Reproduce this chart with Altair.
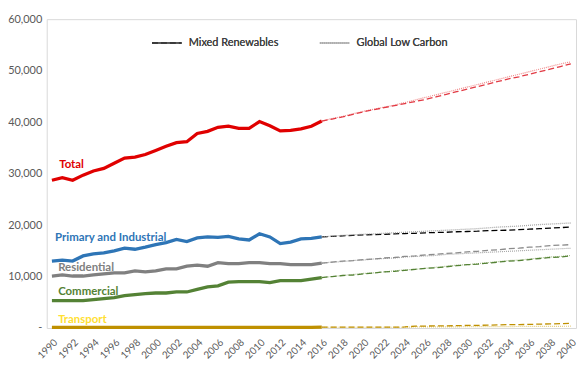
import altair as alt
import pandas as pd

hist_years = list(range(1990, 2017))
proj_years = list(range(2016, 2041))

series_names = ["Total", "Primary and Industrial", "Residential", "Commercial", "Transport"]

hist_total = [28700, 29200, 28700, 29700, 30500, 31000, 32000, 33000, 33200, 33700,
              34500, 35300, 36000, 36200, 37800, 38200, 39000, 39200, 38800, 38800,
              40100, 39300, 38300, 38400, 38700, 39200, 40200]
hist_primary = [13000, 13200, 13000, 14000, 14400, 14600, 15000, 15500, 15300, 15700,
                16200, 16600, 17200, 16800, 17500, 17700, 17600, 17800, 17300, 17100,
                18300, 17700, 16400, 16700, 17300, 17400, 17700]
hist_residential = [10100, 10300, 10100, 10100, 10300, 10500, 10700, 10700, 11100, 10900,
                    11100, 11500, 11500, 12000, 12200, 12000, 12700, 12500, 12500, 12700,
                    12700, 12500, 12500, 12300, 12300, 12300, 12600]
hist_commercial = [5300, 5300, 5300, 5300, 5500, 5700, 5900, 6300, 6500, 6700,
                   6800, 6800, 7000, 7000, 7500, 8000, 8200, 8900, 9000, 9000,
                   9000, 8800, 9200, 9200, 9200, 9500, 9800]
hist_transport = [100] * 26 + [150]

mixed_total = [40200, 40600, 41000, 41500, 42000, 42400, 42800, 43200, 43600, 44000,
               44400, 44900, 45400, 45900, 46400, 46900, 47400, 47900, 48400, 48800,
               49300, 49800, 50300, 50800, 51300]
low_total = [40200, 40700, 41100, 41600, 42100, 42500, 42900, 43300, 43800, 44300,
             44800, 45300, 45800, 46300, 46800, 47300, 47800, 48300, 48800, 49300,
             49800, 50300, 50800, 51300, 51700]
mixed_primary = [17700, 17800, 17900, 18000, 18100, 18150, 18200, 18300, 18350, 18400,
                 18500, 18550, 18600, 18700, 18750, 18800, 18900, 18950, 19000, 19100,
                 19200, 19300, 19400, 19500, 19600]
low_primary = [17700, 17850, 18000, 18100, 18200, 18300, 18400, 18500, 18600, 18700,
               18800, 18900, 19000, 19100, 19200, 19300, 19450, 19600, 19700, 19800,
               19950, 20100, 20200, 20300, 20400]
mixed_residential = [12600, 12800, 13000, 13100, 13300, 13400, 13600, 13700, 13900, 14000,
                     14200, 14300, 14500, 14600, 14800, 14900, 15100, 15200, 15400, 15500,
                     15700, 15800, 16000, 16100, 16200]
low_residential = [12600, 12800, 12900, 13100, 13200, 13400, 13500, 13600, 13800, 13900,
                   14000, 14100, 14300, 14400, 14500, 14600, 14700, 14800, 14900, 15000,
                   15100, 15200, 15300, 15400, 15500]
mixed_commercial = [9800, 10000, 10200, 10300, 10500, 10700, 10900, 11000, 11200, 11400,
                    11600, 11700, 11900, 12100, 12300, 12400, 12600, 12800, 13000, 13100,
                    13300, 13500, 13700, 13800, 14000]
low_commercial = [9800, 10000, 10200, 10400, 10600, 10700, 10900, 11100, 11300, 11400,
                  11600, 11800, 12000, 12200, 12300, 12500, 12700, 12900, 13100, 13200,
                  13400, 13600, 13800, 13900, 14100]
mixed_transport = [150, 150, 150, 150, 150, 150, 150, 150, 200, 350,
                   380, 400, 420, 450, 500, 520, 550, 600, 650, 660,
                   700, 750, 800, 850, 900]
low_transport = [150, 150, 150, 150, 150, 150, 150, 150, 150, 200,
                 200, 200, 220, 230, 250, 250, 260, 270, 280, 290,
                 300, 300, 320, 330, 350]

label_years = [1990.7, 1990.3, 1990.6, 1990.6, 1990.6]
label_values = [31600, 17400, 11600, 7000, 1500]

hist_colors = ["#E00000", "#2E75B6", "#808080", "#548235", "#BF9000"]
mixed_colors = ["#E23A44", "#000000", "#8C8C8C", "#548235", "#BF9000"]
low_colors = ["#F08A8A", "#A6A6A6", "#A6A6A6", "#A9C08F", "#E2CB7A"]
label_colors = ["#E00000", "#2E75B6", "#808080", "#548235", "#FFE033"]

scenarios = ["Mixed Renewables", "Global Low Carbon"]

hist_lists = [hist_total, hist_primary, hist_residential, hist_commercial, hist_transport]
mixed_lists = [mixed_total, mixed_primary, mixed_residential, mixed_commercial, mixed_transport]
low_lists = [low_total, low_primary, low_residential, low_commercial, low_transport]

rows = []
for s, vals in zip(series_names, hist_lists):
    for y, v in zip(hist_years, vals):
        rows.append({"series": s, "scenario": "History", "year": y, "value": v})
for s, vals in zip(series_names, mixed_lists):
    for y, v in zip(proj_years, vals):
        rows.append({"series": s, "scenario": scenarios[0], "year": y, "value": v})
for s, vals in zip(series_names, low_lists):
    for y, v in zip(proj_years, vals):
        rows.append({"series": s, "scenario": scenarios[1], "year": y, "value": v})
df = pd.DataFrame(rows)

labels_df = pd.DataFrame({"series": series_names, "year": label_years, "value": label_values})

FONT = "Lato"

x_enc = alt.X("year:Q",
              scale=alt.Scale(domain=[1989.5, 2040.5], nice=False, zero=False),
              axis=alt.Axis(values=list(range(1990, 2041, 2)), format="d", labelAngle=-45,
                            title=None, grid=False, ticks=False, domain=False,
                            labelOverlap=False, labelBound=False, labelFlush=False,
                            labelFontSize=10, labelColor="#595959", labelFont=FONT,
                            labelPadding=9))
y_enc = alt.Y("value:Q",
              scale=alt.Scale(domain=[0, 60000], nice=False),
              axis=alt.Axis(values=list(range(0, 60001, 10000)),
                            labelExpr="datum.value == 0 ? '-' : format(datum.value, ',')",
                            title=None, grid=False, ticks=False, domain=False,
                            labelOverlap=False, labelBound=False, labelFlush=False,
                            labelFontSize=11, labelColor="#595959", labelFont=FONT,
                            labelPadding=5))

layers = []
for i, s in enumerate(series_names):
    layers.append(
        alt.Chart(df).transform_filter(
            (alt.datum.series == s) & (alt.datum.scenario == "History")
        ).mark_line(color=hist_colors[i], strokeWidth=3.3).encode(x=x_enc, y=y_enc)
    )
for i, s in enumerate(series_names):
    if s == "Primary and Industrial":
        continue
    layers.append(
        alt.Chart(df).transform_filter(
            (alt.datum.series == s) & (alt.datum.scenario == scenarios[1])
        ).mark_line(color=low_colors[i], strokeWidth=1.2, strokeDash=[1, 1]).encode(x=x_enc, y=y_enc)
    )
    layers.append(
        alt.Chart(df).transform_filter(
            (alt.datum.series == s) & (alt.datum.scenario == scenarios[0])
        ).mark_line(color=mixed_colors[i], strokeWidth=1.3, strokeDash=[6, 3]).encode(x=x_enc, y=y_enc)
    )

legend_def = dict(title=None, orient="none", legendX=105, legendY=8,
                  direction="horizontal", symbolType="stroke",
                  symbolSize=900, symbolStrokeWidth=1.3,
                  labelFontSize=11, labelFont=FONT, labelColor="#404040",
                  columnPadding=38, labelOffset=6)

# Primary projections carry the legend
legend_layer = alt.Chart(df).transform_filter(
    (alt.datum.series == "Primary and Industrial") & (alt.datum.scenario != "History")
).mark_line(strokeWidth=1.3).encode(
    x=x_enc, y=y_enc,
    color=alt.Color("scenario:N", scale=alt.Scale(domain=scenarios, range=["#000000", "#A6A6A6"]),
                    legend=alt.Legend(**legend_def)),
    strokeDash=alt.StrokeDash("scenario:N", scale=alt.Scale(domain=scenarios, range=[[6, 3], [1, 1]]),
                              legend=alt.Legend(**legend_def)),
    detail="scenario:N",
)
layers.append(legend_layer)

text_layer = alt.Chart(labels_df).mark_text(
    align="left", baseline="middle", fontWeight="bold", fontSize=11.5, font=FONT
).encode(
    x=x_enc, y=y_enc, text="series:N",
    color=alt.Color("series:N", scale=alt.Scale(domain=series_names, range=label_colors), legend=None),
)
layers.append(text_layer)

chart = alt.layer(*layers).resolve_scale(color="independent").properties(
    width=533, height=311,
    autosize=alt.AutoSizeParams(type="none"),
    padding={"left": 39, "top": 10, "right": 4, "bottom": 33},
).configure_view(stroke="#D9D9D9", strokeWidth=1)

chart.save("out.html", embed_options={"renderer": "svg", "actions": False})
